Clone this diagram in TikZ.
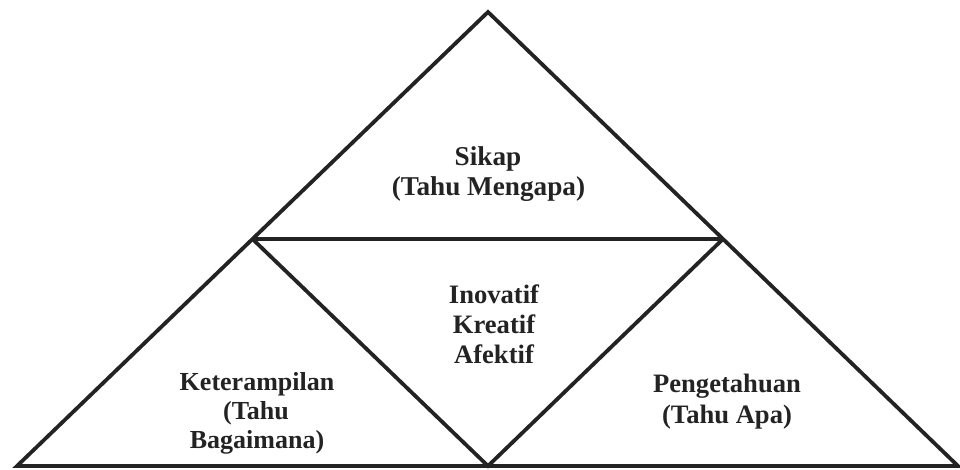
\documentclass[tikz,border=0pt]{standalone}
\usepackage{fontspec}
\setmainfont{Liberation Serif}
\usetikzlibrary{calc}
\definecolor{ink}{HTML}{232323}
\begin{document}
\begin{tikzpicture}[x=1pt,y=-1pt,
  edge/.style={draw=ink,line width=3.8pt,line join=miter},
  lbl/.style={anchor=base,inner sep=0pt,text=ink,font=\bfseries\fontsize{26.6}{30}\selectfont},
  lblt/.style={lbl,font=\bfseries\fontsize{27.2}{30}\selectfont},
  lbls/.style={lbl,font=\bfseries\fontsize{26}{30}\selectfont}]
\useasboundingbox (0,0) rectangle (960,469);
\coordinate (A) at (488,12);
\coordinate (L) at (17,466);
\coordinate (R) at (958,466);
\coordinate (M) at (488,466);
\coordinate (P) at ($(A)!0.5!(L)$);
\coordinate (Q) at ($(A)!0.5!(R)$);
\draw[edge] (L) -- (A) -- (R) -- cycle;
\draw[edge] (P) -- (Q);
\draw[edge] (P) -- (M) -- (Q);
% top
\node[lblt] (s1) at (488,165) {Sikap};
\node[lblt] (s2) at (488.5,195) {(Tahu Mengapa)};
% middle
\node[lbl] (m1) at (494,303) {Inovatif};
\node[lbl] (m2) at (494,333) {Kreatif};
\node[lbl] (m3) at (494,363) {Afektif};
% left
\node[lbls] (k1) at (257,390) {Keterampilan};
\node[lbls] (k2) at (256,419) {(Tahu};
\node[lbls] (k3) at (257,448) {Bagaimana)};
% right
\node[lbl] (p1) at (727,392) {Pengetahuan};
\node[lbl] (p2) at (727,423) {(Tahu Apa)};
\end{tikzpicture}
\end{document}
